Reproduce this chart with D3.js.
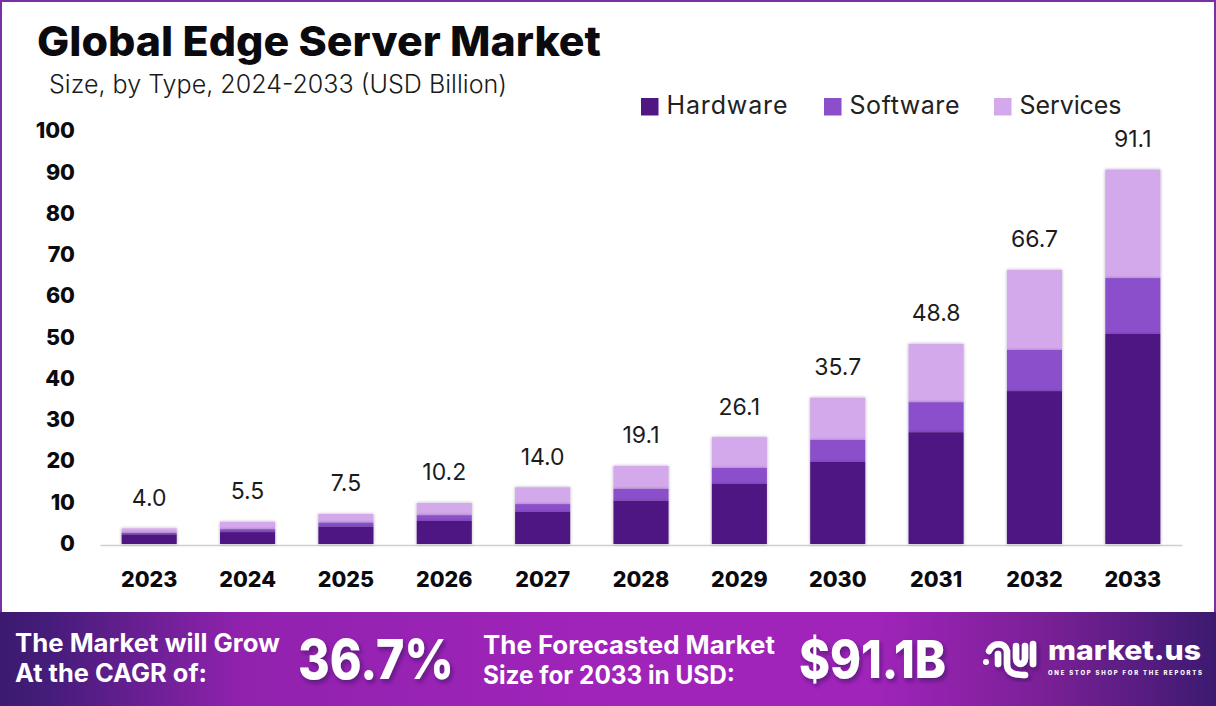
<!DOCTYPE html>
<html><head><meta charset="utf-8">
<script src="https://cdn.jsdelivr.net/npm/d3@7"></script>
<style>html,body{margin:0;padding:0;background:#fff}svg{display:block}text{font-family:Inter,"Noto Sans",sans-serif}</style>
</head><body><svg id="c" width="1216" height="706"></svg>
<script>
const years=["2023","2024","2025","2026","2027","2028","2029","2030","2031","2032","2033"];
const hardware=[2.3,2.9,4.2,5.6,7.8,10.5,14.6,20.0,27.2,37.2,51.1];
const software=[0.4,0.7,1.0,1.4,1.9,2.9,3.9,5.3,7.3,10.0,13.6];
const services=[1.1,1.8,2.1,3.0,4.1,5.6,7.5,10.3,14.2,19.5,26.4];
const totals=["4.0","5.5","7.5","10.2","14.0","19.1","26.1","35.7","48.8","66.7","91.1"];
const yTicks=[0,10,20,30,40,50,60,70,80,90,100];
const seriesNames=["Hardware","Software","Services"];
const seriesColors=["#4e1782","#8b4fcb","#d3a9ec"];

const svg=d3.select("#c");
const defs=svg.append("defs");
const g=defs.append("linearGradient").attr("id","foot");
[[0,"#3c1a70"],[0.04,"#451c7a"],[0.2,"#9122ae"],[0.5,"#a024ba"],[0.72,"#a024ba"],[0.86,"#7a2096"],[1,"#3c1a70"]].forEach(d=>g.append("stop").attr("offset",d[0]).attr("stop-color",d[1]));
const f=defs.append("filter").attr("id","sh").attr("x","-20%").attr("y","-20%").attr("width","140%").attr("height","140%");
f.append("feDropShadow").attr("dx",2).attr("dy",3).attr("stdDeviation",2).attr("flood-color","#2a0a50").attr("flood-opacity",0.55);
const fb=defs.append("filter").attr("id","bs").attr("x","-10%").attr("y","-10%").attr("width","120%").attr("height","120%");
fb.append("feDropShadow").attr("dx",0).attr("dy",0).attr("stdDeviation",1.5).attr("flood-color","#3a2a50").attr("flood-opacity",0.4);

// frame
svg.append("rect").attr("x",1).attr("y",1).attr("width",1214).attr("height",704).attr("fill","none").attr("stroke","#7b2fa6").attr("stroke-width",2);

// titles
svg.append("text").attr("x",37).attr("y",56).attr("font-size",41).attr("font-weight",800).attr("fill","#0b0b0f").attr("textLength",564).attr("lengthAdjust","spacingAndGlyphs").text("Global Edge Server Market");
svg.append("text").attr("x",49).attr("y",93).attr("font-size",25).attr("font-weight",300).attr("fill","#1a1a1a").attr("textLength",458).attr("lengthAdjust","spacingAndGlyphs").text("Size, by Type, 2024-2033 (USD Billion)");

// scales
const x=d3.scaleBand().domain(years).range([100,1182]).paddingInner(0.44).paddingOuter(0.22);
const y=d3.scaleLinear().domain([0,100]).range([544,133]);
const yLab=d3.scaleLinear().domain([0,100]).range([542.5,130]);

// y axis labels
const ya=svg.append("g").attr("transform","translate(75,0)").call(d3.axisLeft(yLab).tickValues(yTicks).tickSize(0).tickPadding(0));
ya.select(".domain").remove();
ya.selectAll("text").attr("font-size",21.5).attr("font-weight",800).attr("fill","#0b0b0f").style("font-family","Inter").attr("dy","0.36em");

// baseline + x axis
const xa=svg.append("g").attr("transform","translate(0,545)").call(d3.axisBottom(x).tickSize(0).tickPadding(27));
xa.select(".domain").attr("stroke","#cfcfcf").attr("stroke-width",1.5);
xa.selectAll("text").attr("font-size",21.5).attr("font-weight",800).attr("fill","#0b0b0f").style("font-family","Inter");

// stacked bars
const rows=years.map((yr,i)=>({year:yr,Hardware:hardware[i],Software:software[i],Services:services[i]}));
const stack=d3.stack().keys(seriesNames)(rows);
const color=d3.scaleOrdinal(seriesNames,seriesColors);
const layers=[...stack].reverse();
svg.append("g").selectAll("g").data(layers).join("g").attr("fill",d=>color(d.key)).attr("filter","url(#bs)")
 .selectAll("rect").data(d=>d).join("rect")
 .attr("x",d=>x(d.data.year)).attr("width",x.bandwidth())
 .attr("y",d=>y(d[1])).attr("height",d=>y(d[0])-y(d[1]));

// value labels
svg.append("g").selectAll("text").data(rows).join("text")
 .attr("x",d=>x(d.year)+x.bandwidth()/2)
 .attr("y",d=>y(d.Hardware+d.Software+d.Services)-22.5)
 .attr("text-anchor","middle").attr("font-size",23).attr("font-weight",400).attr("fill","#1c1c1c")
 .text((d,i)=>totals[i]);

// legend
const legX=[641,824,994], legW=[121,110,102];
const leg=svg.append("g").selectAll("g").data(seriesNames).join("g").attr("transform",(d,i)=>`translate(${legX[i]},98)`);
leg.append("rect").attr("width",17.5).attr("height",17.5).attr("fill",d=>color(d));
leg.append("text").attr("x",25.5).attr("y",16).attr("font-size",25).attr("font-weight",400).attr("fill","#222")
 .attr("textLength",(d,i)=>legW[i]).attr("lengthAdjust","spacing").text(d=>d);

// footer
svg.append("rect").attr("x",0).attr("y",612).attr("width",1216).attr("height",94).attr("fill","url(#foot)");
const ft=svg.append("g").attr("fill","#fff").attr("font-weight",700);
const tx=(s,x0,y0,size,len,extra)=>{const t=ft.append("text").attr("x",x0).attr("y",y0).attr("font-size",size).attr("textLength",len).attr("lengthAdjust","spacingAndGlyphs").text(s);if(extra)t.attr("filter","url(#sh)").attr("font-weight",800);return t;};
tx("The Market will Grow",15,652,25,265);
tx("At the CAGR of:",15,682,25,192);
tx("36.7%",298,679,55,156,true);
tx("The Forecasted Market",483,654,25,292);
tx("Size for 2033 in USD:",483,684,25,252);
tx("$91.1B",799,678,52,147,true);
// logo
const lg=svg.append("g").attr("fill","none").attr("stroke","#fff").attr("stroke-width",6.5).attr("stroke-linecap","round").attr("filter","url(#sh)");
lg.append("path").attr("d","M989 651 C993 642 1005 642 1007 651 L1007 664 C1007 673 1014 675 1025 675");
lg.append("path").attr("d","M998 654 L998 664");
lg.append("path").attr("d","M1016 646 L1016 658 C1016 666 1025 666 1025 658 L1025 646");
lg.append("path").attr("d","M1033 644 L1033 664");
svg.append("g").attr("fill","#fff").selectAll("circle").data([[986,662]]).join("circle").attr("cx",d=>d[0]).attr("cy",d=>d[1]).attr("r",3);
ft.append("text").attr("x",1048).attr("y",660).attr("font-size",27).attr("font-weight",800).attr("textLength",153).attr("lengthAdjust","spacingAndGlyphs").text("market.us");
ft.append("text").attr("x",1048).attr("y",675).attr("font-size",6).attr("font-weight",800).attr("textLength",154).text("ONE STOP SHOP FOR THE REPORTS");
</script></body></html>
